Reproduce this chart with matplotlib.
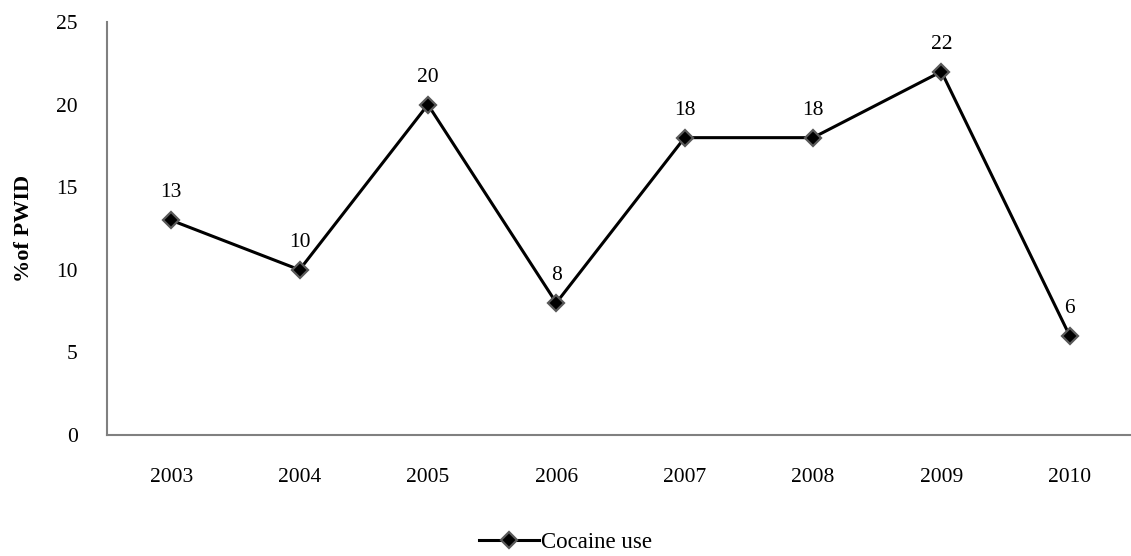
import matplotlib.pyplot as plt
import numpy as np

years = ['2003', '2004', '2005', '2006', '2007', '2008', '2009', '2010']
cocaine = [13, 10, 20, 8, 18, 18, 22, 6]

plt.rcParams['font.family'] = ['Liberation Serif', 'DejaVu Serif']

fig = plt.figure(figsize=(11.31, 5.56), dpi=100)
ax = fig.add_axes([0.0946, 0.2176, 0.908, 0.7428])

x = np.arange(len(years))
ax.plot(x, cocaine, color='black', linewidth=2.2, marker='D', markersize=8,
        markerfacecolor='black', markeredgecolor='#595959', markeredgewidth=1.6,
        label='Cocaine use')

# data labels above each point
for xi, v in zip(x, cocaine):
    ax.annotate(str(v), (xi, v), xytext=(0, 13), textcoords='offset points',
                ha='center', va='bottom', fontsize=15.5)

ax.set_xlim(-0.5, len(years) - 0.5)
ax.set_ylim(0, 25)
ax.set_yticks([0, 5, 10, 15, 20, 25])
ax.set_xticks(x)
ax.set_xticklabels(years)
ax.tick_params(length=0, labelsize=15.5)
ax.tick_params(axis='x', pad=24)
ax.tick_params(axis='y', pad=21)

for s in ['top', 'right']:
    ax.spines[s].set_visible(False)
for s in ['left', 'bottom']:
    ax.spines[s].set_color('#808080')
    ax.spines[s].set_linewidth(1.5)

ax.set_ylabel('%of PWID', fontsize=16, fontweight='bold', labelpad=16)

fig.legend(loc='center', bbox_to_anchor=(0.5, 0.024), frameon=False,
           fontsize=16.5, handlelength=2.6, handletextpad=0.1)

fig.savefig('out.png', dpi=100)
